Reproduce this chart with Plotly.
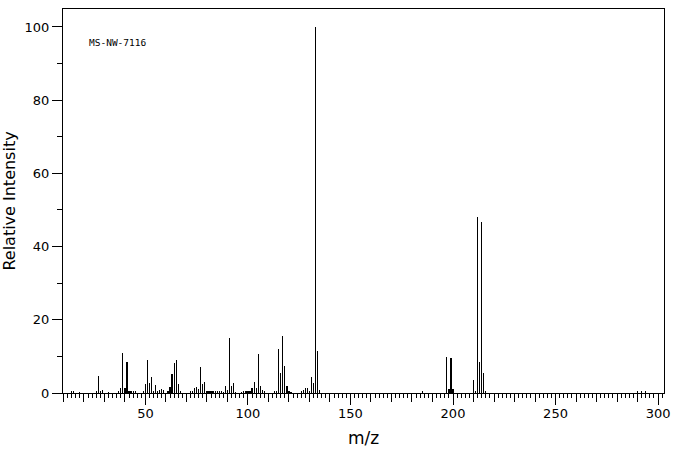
import plotly.graph_objects as go

# m/z values and relative intensities
mz = [14, 15, 18, 26, 27, 28, 29, 32, 37, 38, 39, 40, 41, 42, 43, 44, 45, 49,
      50, 51, 52, 53, 54, 55, 56, 57, 58, 59, 61, 62, 63, 64, 65, 66, 67,
      72, 73, 74, 75, 76, 77, 78, 79, 80, 81, 82, 83, 84, 85, 86, 87, 88, 89, 90,
      91, 92, 93, 94, 97, 98, 99, 100, 101, 102, 103, 104, 105, 106, 107, 108,
      113, 114, 115, 116, 117, 118, 119, 120, 121, 126, 127, 128, 129, 130,
      131, 132, 133, 134, 135, 185, 197, 198, 199, 200, 210, 211, 212, 213,
      214, 215, 216, 290, 292, 294]
intensity = [0.3, 0.5, 0.2, 0.5, 4.7, 0.3, 0.7, 0.2, 0.3, 1.3, 10.9, 1.5, 8.4, 0.3, 0.3, 0.3, 0.3, 0.3,
             2.4, 8.9, 2.6, 4.3, 0.3, 2.1, 0.3, 0.7, 1.2, 0.8, 0.6, 1.6, 5.3, 8.2, 8.9, 2.4, 0.6,
             0.3, 0.3, 1.3, 1.6, 1.0, 7.0, 2.4, 2.9, 0.3, 0.3, 0.3, 0.3, 0.3, 0.4, 0.5, 0.5, 0.2, 1.8, 0.7,
             15.0, 1.8, 2.6, 0.2, 0.2, 0.3, 0.3, 0.3, 0.3, 1.3, 2.9, 1.3, 10.6, 1.8, 0.7, 0.3,
             0.3, 0.3, 12.0, 5.4, 15.5, 7.3, 1.8, 0.3, 0.2, 0.3, 0.7, 1.5, 1.5, 0.5,
             4.3, 2.6, 100.0, 11.4, 0.7, 0.3, 9.9, 1.1, 9.6, 1.1, 3.6, 0.3, 48.1, 8.5,
             46.6, 5.5, 0.6, 0.3, 0.3, 0.3]

x_labels = [50, 100, 150, 200, 250, 300]
x_decades = list(range(10, 301, 10))
y_labels = [0, 20, 40, 60, 80, 100]
y_minor = [10, 30, 50, 70, 90]

fig = go.Figure()
fig.add_trace(go.Bar(x=mz, y=intensity, width=0.1,
                     marker=dict(color="black", line=dict(width=0)),
                     hoverinfo="skip", showlegend=False))
# invisible trace for the overlay axis carrying the longer ticks at 50s
fig.add_trace(go.Scatter(x=[x_labels[0]], y=[0], xaxis="x2", mode="markers",
                         marker=dict(opacity=0), showlegend=False, hoverinfo="skip"))

font = "DejaVu Sans"
xr = [9.8, 302.9]
fig.update_layout(
    width=676, height=455,
    margin=dict(l=63, r=12, t=9, b=62, autoexpand=False),
    plot_bgcolor="white", paper_bgcolor="white",
    font=dict(family=font, size=13, color="black"),
    bargap=0,
    xaxis=dict(range=xr, showgrid=False, zeroline=False, automargin=False,
               showline=True, linecolor="black", linewidth=1, mirror=True,
               ticks="outside", ticklen=8, tickcolor="black", tickwidth=1,
               tickvals=x_decades,
               ticktext=[str(v) if v in x_labels else "" for v in x_decades],
               tickfont=dict(family=font, size=13),
               minor=dict(dtick=2, tick0=0, ticks="outside", ticklen=4,
                          tickcolor="black", tickwidth=1, showgrid=False),
               title=dict(text="m/z", font=dict(family=font, size=17), standoff=12)),
    xaxis2=dict(range=xr, overlaying="x", anchor="y", side="bottom", automargin=False,
                showgrid=False, zeroline=False, showline=False,
                ticks="outside", ticklen=11, tickcolor="black", tickwidth=1,
                tickvals=x_labels, showticklabels=False),
    yaxis=dict(range=[0, 104.9], showgrid=False, zeroline=False, automargin=False,
               showline=True, linecolor="black", linewidth=1, mirror=True,
               ticks="outside", ticklen=10, tickcolor="black", tickwidth=1,
               tickvals=y_labels, tickfont=dict(family=font, size=13),
               minor=dict(tickvals=y_minor, ticks="outside", ticklen=5,
                          tickcolor="black", tickwidth=1, showgrid=False),
               title=dict(text="Relative Intensity", font=dict(family=font, size=16),
                          standoff=8)),
    annotations=[dict(text="MS-NW-7116", x=0.04, y=0.913, xref="paper", yref="paper",
                      xanchor="left", yanchor="middle", showarrow=False,
                      font=dict(family="DejaVu Sans Mono", size=9.5, color="black"))],
)

fig.write_html("out.html", config={"displayModeBar": False},
               post_script="document.body.style.margin='0';")
